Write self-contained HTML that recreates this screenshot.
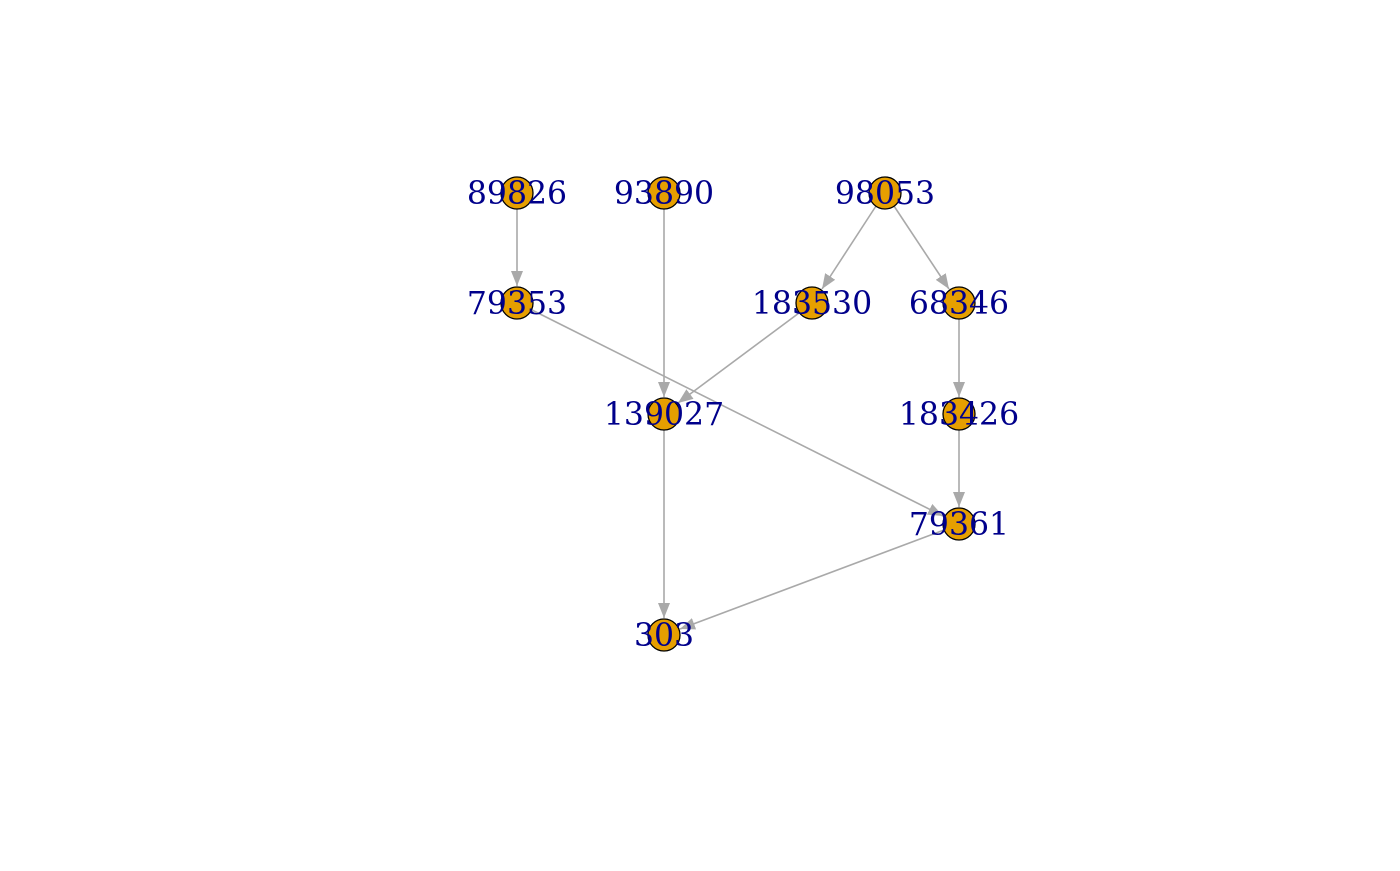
<!DOCTYPE html>
<html><head><style>body{margin:0;background:#fff}</style></head><body>
<svg width="1400" height="866" xmlns="http://www.w3.org/2000/svg">
<defs><marker id="a" viewBox="0 0 10 10" refX="10" refY="5" markerWidth="15" markerHeight="12" preserveAspectRatio="none" markerUnits="userSpaceOnUse" orient="auto"><path d="M0,0 L10,5 L0,10 Z" fill="#a9a9a9"/></marker></defs>
<g stroke="#a9a9a9" stroke-width="1.6" marker-end="url(#a)" fill="none">
<line x1="517" y1="209" x2="517" y2="286"/>
<line x1="664" y1="209" x2="664" y2="397"/>
<line x1="876" y1="206" x2="822" y2="289"/>
<line x1="894" y1="206" x2="949" y2="289"/>
<line x1="532" y1="310" x2="943" y2="516"/>
<line x1="799" y1="313" x2="678" y2="403"/>
<line x1="959" y1="319" x2="959" y2="397"/>
<line x1="959" y1="430" x2="959" y2="507"/>
<line x1="664" y1="430" x2="664" y2="618"/>
<line x1="944" y1="530" x2="680" y2="629"/>
</g>
<g fill="#e69f00" stroke="#000" stroke-width="1.3">
<circle cx="517" cy="193" r="16"/><circle cx="664" cy="193" r="16"/><circle cx="885" cy="193" r="16"/>
<circle cx="517" cy="303" r="16"/><circle cx="812" cy="303" r="16"/><circle cx="959" cy="303" r="16"/>
<circle cx="664" cy="414" r="16"/><circle cx="959" cy="414" r="16"/><circle cx="959" cy="524" r="16"/>
<circle cx="664" cy="635" r="16"/>
</g>
<g fill="#00008b" font-family="DejaVu Serif, serif" font-size="31.5" text-anchor="middle" dominant-baseline="central">
<text x="517" y="194">89826</text><text x="664" y="194">93890</text><text x="885" y="194">98053</text>
<text x="517" y="304">79353</text><text x="812" y="304">183530</text><text x="959" y="304">68346</text>
<text x="664" y="415">139027</text><text x="959" y="415">183426</text><text x="959" y="525">79361</text>
<text x="664" y="636">303</text>
</g>
</svg>
</body></html>
